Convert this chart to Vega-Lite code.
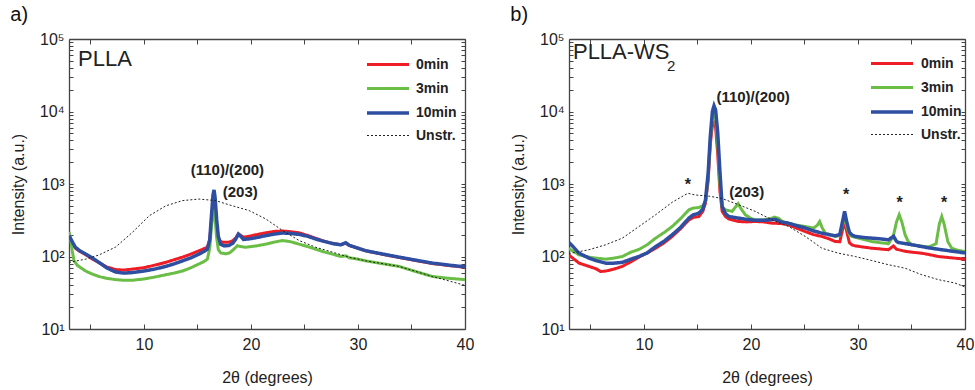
{
  "$schema": "https://vega.github.io/schema/vega-lite/v6.json",
  "padding": {"left": 10, "top": 5, "right": 2, "bottom": 3},
  "spacing": 36,
  "config": {
    "font": "Liberation Sans",
    "view": {"stroke": null},
    "axis": {
      "grid": false,
      "domainColor": "#444",
      "domainWidth": 1.3,
      "tickColor": "#444",
      "tickWidth": 1,
      "labelColor": "#222",
      "titleColor": "#222",
      "labelFontSize": 16,
      "titleFontSize": 16,
      "titleFontWeight": "normal"
    },
    "legend": {
      "title": null,
      "orient": "none",
      "symbolType": "M-3,0H3",
      "symbolSize": 196,
      "labelFontSize": 14,
      "labelFontWeight": "bold",
      "labelColor": "#222",
      "rowPadding": 8,
      "padding": 0
    },
    "title": {"fontSize": 20, "fontWeight": "normal", "anchor": "start", "frame": "bounds", "color": "#111"}
  },
  "datasets": {
    "A": [
      {"s": "0min", "x": 3.0, "y": 185}, {"s": "0min", "x": 3.3, "y": 155}, {"s": "0min", "x": 3.6, "y": 130}, {"s": "0min", "x": 4.0, "y": 118}, {"s": "0min", "x": 4.56, "y": 106}, {"s": "0min", "x": 5.2, "y": 92}, {"s": "0min", "x": 5.8, "y": 82}, {"s": "0min", "x": 6.5, "y": 72}, {"s": "0min", "x": 7.36, "y": 66}, {"s": "0min", "x": 8.1, "y": 65}, {"s": "0min", "x": 8.92, "y": 67}, {"s": "0min", "x": 10.0, "y": 70}, {"s": "0min", "x": 11.0, "y": 76}, {"s": "0min", "x": 12.04, "y": 83}, {"s": "0min", "x": 12.8, "y": 90}, {"s": "0min", "x": 13.6, "y": 98}, {"s": "0min", "x": 14.4, "y": 108}, {"s": "0min", "x": 15.15, "y": 120}, {"s": "0min", "x": 15.6, "y": 128}, {"s": "0min", "x": 15.93, "y": 134}, {"s": "0min", "x": 16.15, "y": 170}, {"s": "0min", "x": 16.3, "y": 300}, {"s": "0min", "x": 16.45, "y": 520}, {"s": "0min", "x": 16.55, "y": 600}, {"s": "0min", "x": 16.65, "y": 480}, {"s": "0min", "x": 16.8, "y": 260}, {"s": "0min", "x": 16.95, "y": 180}, {"s": "0min", "x": 17.17, "y": 160}, {"s": "0min", "x": 17.5, "y": 157}, {"s": "0min", "x": 17.95, "y": 158}, {"s": "0min", "x": 18.3, "y": 165}, {"s": "0min", "x": 18.58, "y": 180}, {"s": "0min", "x": 18.83, "y": 205}, {"s": "0min", "x": 19.05, "y": 195}, {"s": "0min", "x": 19.3, "y": 185}, {"s": "0min", "x": 19.83, "y": 190}, {"s": "0min", "x": 20.5, "y": 200}, {"s": "0min", "x": 21.38, "y": 212}, {"s": "0min", "x": 22.2, "y": 222}, {"s": "0min", "x": 22.94, "y": 225}, {"s": "0min", "x": 23.7, "y": 220}, {"s": "0min", "x": 24.5, "y": 212}, {"s": "0min", "x": 25.3, "y": 195}, {"s": "0min", "x": 26.06, "y": 178}, {"s": "0min", "x": 26.8, "y": 163}, {"s": "0min", "x": 27.6, "y": 152}, {"s": "0min", "x": 28.4, "y": 145}, {"s": "0min", "x": 28.86, "y": 153}, {"s": "0min", "x": 29.17, "y": 143}, {"s": "0min", "x": 30.0, "y": 130}, {"s": "0min", "x": 30.73, "y": 120}, {"s": "0min", "x": 32.2, "y": 108}, {"s": "0min", "x": 33.84, "y": 97}, {"s": "0min", "x": 35.4, "y": 88}, {"s": "0min", "x": 36.96, "y": 80}, {"s": "0min", "x": 38.5, "y": 75}, {"s": "0min", "x": 40, "y": 71},
      {"s": "3min", "x": 3.0, "y": 218}, {"s": "3min", "x": 3.15, "y": 180}, {"s": "3min", "x": 3.3, "y": 120}, {"s": "3min", "x": 3.47, "y": 87}, {"s": "3min", "x": 3.8, "y": 75}, {"s": "3min", "x": 4.56, "y": 63}, {"s": "3min", "x": 5.2, "y": 57}, {"s": "3min", "x": 5.8, "y": 53}, {"s": "3min", "x": 6.5, "y": 50}, {"s": "3min", "x": 7.36, "y": 48}, {"s": "3min", "x": 8.1, "y": 47}, {"s": "3min", "x": 8.92, "y": 47}, {"s": "3min", "x": 10.0, "y": 49}, {"s": "3min", "x": 11.0, "y": 52}, {"s": "3min", "x": 12.04, "y": 56}, {"s": "3min", "x": 12.8, "y": 59}, {"s": "3min", "x": 13.6, "y": 63}, {"s": "3min", "x": 14.4, "y": 70}, {"s": "3min", "x": 15.15, "y": 79}, {"s": "3min", "x": 15.6, "y": 85}, {"s": "3min", "x": 15.93, "y": 92}, {"s": "3min", "x": 16.15, "y": 130}, {"s": "3min", "x": 16.3, "y": 250}, {"s": "3min", "x": 16.45, "y": 390}, {"s": "3min", "x": 16.55, "y": 410}, {"s": "3min", "x": 16.65, "y": 330}, {"s": "3min", "x": 16.8, "y": 180}, {"s": "3min", "x": 16.95, "y": 125}, {"s": "3min", "x": 17.17, "y": 112}, {"s": "3min", "x": 17.64, "y": 109}, {"s": "3min", "x": 18.0, "y": 112}, {"s": "3min", "x": 18.3, "y": 122}, {"s": "3min", "x": 18.74, "y": 141}, {"s": "3min", "x": 18.95, "y": 138}, {"s": "3min", "x": 19.51, "y": 134}, {"s": "3min", "x": 20.5, "y": 140}, {"s": "3min", "x": 21.38, "y": 148}, {"s": "3min", "x": 22.2, "y": 158}, {"s": "3min", "x": 22.94, "y": 166}, {"s": "3min", "x": 23.7, "y": 160}, {"s": "3min", "x": 24.5, "y": 148}, {"s": "3min", "x": 25.3, "y": 137}, {"s": "3min", "x": 26.06, "y": 126}, {"s": "3min", "x": 26.8, "y": 116}, {"s": "3min", "x": 27.6, "y": 108}, {"s": "3min", "x": 28.4, "y": 100}, {"s": "3min", "x": 28.86, "y": 102}, {"s": "3min", "x": 29.17, "y": 96}, {"s": "3min", "x": 30.0, "y": 92}, {"s": "3min", "x": 30.73, "y": 87}, {"s": "3min", "x": 32.2, "y": 80}, {"s": "3min", "x": 33.84, "y": 73}, {"s": "3min", "x": 35.4, "y": 62}, {"s": "3min", "x": 36.96, "y": 53}, {"s": "3min", "x": 38.5, "y": 50}, {"s": "3min", "x": 40, "y": 48},
      {"s": "10min", "x": 3.0, "y": 194}, {"s": "10min", "x": 3.3, "y": 160}, {"s": "10min", "x": 3.6, "y": 134}, {"s": "10min", "x": 4.0, "y": 120}, {"s": "10min", "x": 4.56, "y": 108}, {"s": "10min", "x": 5.2, "y": 95}, {"s": "10min", "x": 5.8, "y": 83}, {"s": "10min", "x": 6.5, "y": 70}, {"s": "10min", "x": 7.36, "y": 61}, {"s": "10min", "x": 8.1, "y": 59}, {"s": "10min", "x": 8.92, "y": 60}, {"s": "10min", "x": 10.0, "y": 63}, {"s": "10min", "x": 11.0, "y": 67}, {"s": "10min", "x": 12.04, "y": 73}, {"s": "10min", "x": 12.8, "y": 79}, {"s": "10min", "x": 13.6, "y": 87}, {"s": "10min", "x": 14.4, "y": 96}, {"s": "10min", "x": 15.15, "y": 108}, {"s": "10min", "x": 15.6, "y": 117}, {"s": "10min", "x": 15.93, "y": 126}, {"s": "10min", "x": 16.15, "y": 170}, {"s": "10min", "x": 16.3, "y": 350}, {"s": "10min", "x": 16.45, "y": 700}, {"s": "10min", "x": 16.55, "y": 830}, {"s": "10min", "x": 16.65, "y": 650}, {"s": "10min", "x": 16.8, "y": 320}, {"s": "10min", "x": 16.95, "y": 190}, {"s": "10min", "x": 17.17, "y": 148}, {"s": "10min", "x": 17.5, "y": 140}, {"s": "10min", "x": 17.95, "y": 142}, {"s": "10min", "x": 18.3, "y": 152}, {"s": "10min", "x": 18.58, "y": 174}, {"s": "10min", "x": 18.83, "y": 204}, {"s": "10min", "x": 19.05, "y": 190}, {"s": "10min", "x": 19.3, "y": 172}, {"s": "10min", "x": 19.83, "y": 175}, {"s": "10min", "x": 20.5, "y": 182}, {"s": "10min", "x": 21.38, "y": 194}, {"s": "10min", "x": 22.2, "y": 204}, {"s": "10min", "x": 22.94, "y": 211}, {"s": "10min", "x": 23.7, "y": 208}, {"s": "10min", "x": 24.5, "y": 202}, {"s": "10min", "x": 25.3, "y": 190}, {"s": "10min", "x": 26.06, "y": 174}, {"s": "10min", "x": 26.8, "y": 162}, {"s": "10min", "x": 27.6, "y": 151}, {"s": "10min", "x": 28.4, "y": 145}, {"s": "10min", "x": 28.86, "y": 155}, {"s": "10min", "x": 29.17, "y": 143}, {"s": "10min", "x": 30.0, "y": 130}, {"s": "10min", "x": 30.73, "y": 120}, {"s": "10min", "x": 32.2, "y": 109}, {"s": "10min", "x": 33.84, "y": 98}, {"s": "10min", "x": 35.4, "y": 89}, {"s": "10min", "x": 36.96, "y": 81}, {"s": "10min", "x": 38.5, "y": 76}, {"s": "10min", "x": 40, "y": 72},
      {"s": "Unstr.", "x": 3.0, "y": 83}, {"s": "Unstr.", "x": 4.56, "y": 92}, {"s": "Unstr.", "x": 5.8, "y": 105}, {"s": "Unstr.", "x": 7.36, "y": 135}, {"s": "Unstr.", "x": 8.92, "y": 215}, {"s": "Unstr.", "x": 10.5, "y": 365}, {"s": "Unstr.", "x": 12.04, "y": 500}, {"s": "Unstr.", "x": 13.6, "y": 590}, {"s": "Unstr.", "x": 15.15, "y": 620}, {"s": "Unstr.", "x": 16.7, "y": 590}, {"s": "Unstr.", "x": 18.27, "y": 500}, {"s": "Unstr.", "x": 19.83, "y": 430}, {"s": "Unstr.", "x": 21.38, "y": 330}, {"s": "Unstr.", "x": 22.94, "y": 229}, {"s": "Unstr.", "x": 24.5, "y": 166}, {"s": "Unstr.", "x": 26.06, "y": 134}, {"s": "Unstr.", "x": 27.6, "y": 115}, {"s": "Unstr.", "x": 29.17, "y": 98}, {"s": "Unstr.", "x": 30.73, "y": 87}, {"s": "Unstr.", "x": 33.84, "y": 73}, {"s": "Unstr.", "x": 36.96, "y": 53}, {"s": "Unstr.", "x": 38.5, "y": 46}, {"s": "Unstr.", "x": 40, "y": 40}
    ],
    "B": [
      {"s": "0min", "x": 3.0, "y": 105}, {"s": "0min", "x": 3.16, "y": 100}, {"s": "0min", "x": 3.94, "y": 81}, {"s": "0min", "x": 4.87, "y": 73}, {"s": "0min", "x": 5.5, "y": 68}, {"s": "0min", "x": 5.96, "y": 62}, {"s": "0min", "x": 6.42, "y": 63}, {"s": "0min", "x": 7.2, "y": 67}, {"s": "0min", "x": 7.98, "y": 73}, {"s": "0min", "x": 8.8, "y": 85}, {"s": "0min", "x": 9.53, "y": 98}, {"s": "0min", "x": 10.3, "y": 112}, {"s": "0min", "x": 11.09, "y": 130}, {"s": "0min", "x": 11.9, "y": 155}, {"s": "0min", "x": 12.64, "y": 189}, {"s": "0min", "x": 13.4, "y": 240}, {"s": "0min", "x": 14.2, "y": 320}, {"s": "0min", "x": 14.6, "y": 345}, {"s": "0min", "x": 15.13, "y": 356}, {"s": "0min", "x": 15.5, "y": 420}, {"s": "0min", "x": 15.75, "y": 545}, {"s": "0min", "x": 16.0, "y": 1100}, {"s": "0min", "x": 16.2, "y": 3500}, {"s": "0min", "x": 16.4, "y": 6500}, {"s": "0min", "x": 16.55, "y": 7000}, {"s": "0min", "x": 16.7, "y": 6000}, {"s": "0min", "x": 16.9, "y": 2500}, {"s": "0min", "x": 17.1, "y": 800}, {"s": "0min", "x": 17.31, "y": 420}, {"s": "0min", "x": 17.62, "y": 356}, {"s": "0min", "x": 17.93, "y": 330}, {"s": "0min", "x": 18.86, "y": 304}, {"s": "0min", "x": 19.6, "y": 300}, {"s": "0min", "x": 20.42, "y": 304}, {"s": "0min", "x": 21.2, "y": 300}, {"s": "0min", "x": 21.97, "y": 288}, {"s": "0min", "x": 22.8, "y": 285}, {"s": "0min", "x": 23.52, "y": 273}, {"s": "0min", "x": 24.3, "y": 245}, {"s": "0min", "x": 25.08, "y": 221}, {"s": "0min", "x": 25.86, "y": 200}, {"s": "0min", "x": 26.63, "y": 189}, {"s": "0min", "x": 27.3, "y": 175}, {"s": "0min", "x": 27.88, "y": 161}, {"s": "0min", "x": 28.3, "y": 160}, {"s": "0min", "x": 28.55, "y": 230}, {"s": "0min", "x": 28.75, "y": 300}, {"s": "0min", "x": 28.95, "y": 220}, {"s": "0min", "x": 29.2, "y": 155}, {"s": "0min", "x": 29.43, "y": 145}, {"s": "0min", "x": 29.74, "y": 140}, {"s": "0min", "x": 30.5, "y": 135}, {"s": "0min", "x": 31.3, "y": 130}, {"s": "0min", "x": 32.1, "y": 127}, {"s": "0min", "x": 32.85, "y": 124}, {"s": "0min", "x": 33.32, "y": 140}, {"s": "0min", "x": 33.6, "y": 126}, {"s": "0min", "x": 34.4, "y": 118}, {"s": "0min", "x": 35.2, "y": 114}, {"s": "0min", "x": 35.96, "y": 111}, {"s": "0min", "x": 36.7, "y": 106}, {"s": "0min", "x": 37.5, "y": 100}, {"s": "0min", "x": 38.7, "y": 96}, {"s": "0min", "x": 40, "y": 92},
      {"s": "3min", "x": 3.0, "y": 130}, {"s": "3min", "x": 3.16, "y": 124}, {"s": "3min", "x": 3.94, "y": 105}, {"s": "3min", "x": 4.87, "y": 98}, {"s": "3min", "x": 5.5, "y": 95}, {"s": "3min", "x": 6.42, "y": 92}, {"s": "3min", "x": 7.2, "y": 95}, {"s": "3min", "x": 7.98, "y": 100}, {"s": "3min", "x": 8.8, "y": 115}, {"s": "3min", "x": 9.53, "y": 125}, {"s": "3min", "x": 10.3, "y": 145}, {"s": "3min", "x": 11.09, "y": 179}, {"s": "3min", "x": 11.9, "y": 215}, {"s": "3min", "x": 12.64, "y": 259}, {"s": "3min", "x": 13.4, "y": 330}, {"s": "3min", "x": 14.2, "y": 440}, {"s": "3min", "x": 14.6, "y": 465}, {"s": "3min", "x": 15.13, "y": 474}, {"s": "3min", "x": 15.5, "y": 500}, {"s": "3min", "x": 15.75, "y": 573}, {"s": "3min", "x": 16.0, "y": 1300}, {"s": "3min", "x": 16.2, "y": 4000}, {"s": "3min", "x": 16.4, "y": 8000}, {"s": "3min", "x": 16.55, "y": 9000}, {"s": "3min", "x": 16.7, "y": 8000}, {"s": "3min", "x": 16.9, "y": 3500}, {"s": "3min", "x": 17.1, "y": 1000}, {"s": "3min", "x": 17.31, "y": 480}, {"s": "3min", "x": 17.62, "y": 440}, {"s": "3min", "x": 17.93, "y": 430}, {"s": "3min", "x": 18.24, "y": 418}, {"s": "3min", "x": 18.5, "y": 470}, {"s": "3min", "x": 18.8, "y": 535}, {"s": "3min", "x": 19.1, "y": 450}, {"s": "3min", "x": 19.48, "y": 376}, {"s": "3min", "x": 20.0, "y": 335}, {"s": "3min", "x": 20.42, "y": 318}, {"s": "3min", "x": 21.2, "y": 320}, {"s": "3min", "x": 21.97, "y": 338}, {"s": "3min", "x": 22.2, "y": 350}, {"s": "3min", "x": 22.59, "y": 335}, {"s": "3min", "x": 23.0, "y": 300}, {"s": "3min", "x": 23.52, "y": 288}, {"s": "3min", "x": 24.3, "y": 270}, {"s": "3min", "x": 25.08, "y": 259}, {"s": "3min", "x": 25.86, "y": 247}, {"s": "3min", "x": 26.2, "y": 270}, {"s": "3min", "x": 26.42, "y": 304}, {"s": "3min", "x": 26.65, "y": 250}, {"s": "3min", "x": 26.94, "y": 210}, {"s": "3min", "x": 27.4, "y": 200}, {"s": "3min", "x": 27.88, "y": 189}, {"s": "3min", "x": 28.3, "y": 195}, {"s": "3min", "x": 28.55, "y": 280}, {"s": "3min", "x": 28.75, "y": 330}, {"s": "3min", "x": 28.95, "y": 260}, {"s": "3min", "x": 29.2, "y": 200}, {"s": "3min", "x": 29.43, "y": 189}, {"s": "3min", "x": 30.3, "y": 175}, {"s": "3min", "x": 31.3, "y": 161}, {"s": "3min", "x": 32.1, "y": 155}, {"s": "3min", "x": 32.85, "y": 150}, {"s": "3min", "x": 33.3, "y": 190}, {"s": "3min", "x": 33.6, "y": 300}, {"s": "3min", "x": 33.85, "y": 376}, {"s": "3min", "x": 34.1, "y": 300}, {"s": "3min", "x": 34.4, "y": 200}, {"s": "3min", "x": 34.7, "y": 160}, {"s": "3min", "x": 35.03, "y": 145}, {"s": "3min", "x": 35.8, "y": 140}, {"s": "3min", "x": 36.58, "y": 135}, {"s": "3min", "x": 37.3, "y": 150}, {"s": "3min", "x": 37.6, "y": 280}, {"s": "3min", "x": 37.83, "y": 356}, {"s": "3min", "x": 38.05, "y": 280}, {"s": "3min", "x": 38.4, "y": 160}, {"s": "3min", "x": 38.76, "y": 130}, {"s": "3min", "x": 39.3, "y": 122}, {"s": "3min", "x": 40, "y": 117},
      {"s": "10min", "x": 3.0, "y": 155}, {"s": "10min", "x": 3.16, "y": 148}, {"s": "10min", "x": 3.94, "y": 111}, {"s": "10min", "x": 4.87, "y": 95}, {"s": "10min", "x": 5.5, "y": 88}, {"s": "10min", "x": 6.42, "y": 81}, {"s": "10min", "x": 7.2, "y": 81}, {"s": "10min", "x": 7.98, "y": 83}, {"s": "10min", "x": 8.8, "y": 92}, {"s": "10min", "x": 9.53, "y": 100}, {"s": "10min", "x": 10.3, "y": 112}, {"s": "10min", "x": 11.09, "y": 137}, {"s": "10min", "x": 11.9, "y": 163}, {"s": "10min", "x": 12.64, "y": 199}, {"s": "10min", "x": 13.4, "y": 250}, {"s": "10min", "x": 14.2, "y": 338}, {"s": "10min", "x": 14.6, "y": 375}, {"s": "10min", "x": 15.13, "y": 396}, {"s": "10min", "x": 15.5, "y": 450}, {"s": "10min", "x": 15.75, "y": 600}, {"s": "10min", "x": 16.0, "y": 1400}, {"s": "10min", "x": 16.2, "y": 4500}, {"s": "10min", "x": 16.4, "y": 10000}, {"s": "10min", "x": 16.55, "y": 12000}, {"s": "10min", "x": 16.7, "y": 10500}, {"s": "10min", "x": 16.9, "y": 5000}, {"s": "10min", "x": 17.1, "y": 1500}, {"s": "10min", "x": 17.31, "y": 490}, {"s": "10min", "x": 17.62, "y": 390}, {"s": "10min", "x": 17.93, "y": 356}, {"s": "10min", "x": 18.86, "y": 338}, {"s": "10min", "x": 19.6, "y": 325}, {"s": "10min", "x": 20.42, "y": 315}, {"s": "10min", "x": 21.2, "y": 315}, {"s": "10min", "x": 21.97, "y": 322}, {"s": "10min", "x": 22.3, "y": 325}, {"s": "10min", "x": 22.8, "y": 300}, {"s": "10min", "x": 23.52, "y": 288}, {"s": "10min", "x": 24.3, "y": 265}, {"s": "10min", "x": 25.08, "y": 247}, {"s": "10min", "x": 25.86, "y": 225}, {"s": "10min", "x": 26.63, "y": 210}, {"s": "10min", "x": 27.3, "y": 200}, {"s": "10min", "x": 27.88, "y": 193}, {"s": "10min", "x": 28.3, "y": 200}, {"s": "10min", "x": 28.55, "y": 300}, {"s": "10min", "x": 28.75, "y": 418}, {"s": "10min", "x": 28.95, "y": 300}, {"s": "10min", "x": 29.2, "y": 215}, {"s": "10min", "x": 29.43, "y": 199}, {"s": "10min", "x": 29.74, "y": 189}, {"s": "10min", "x": 30.5, "y": 183}, {"s": "10min", "x": 31.3, "y": 179}, {"s": "10min", "x": 32.1, "y": 175}, {"s": "10min", "x": 32.85, "y": 170}, {"s": "10min", "x": 33.32, "y": 190}, {"s": "10min", "x": 33.6, "y": 162}, {"s": "10min", "x": 33.78, "y": 156}, {"s": "10min", "x": 34.5, "y": 150}, {"s": "10min", "x": 35.2, "y": 144}, {"s": "10min", "x": 35.96, "y": 137}, {"s": "10min", "x": 36.7, "y": 131}, {"s": "10min", "x": 37.5, "y": 126}, {"s": "10min", "x": 38.7, "y": 119}, {"s": "10min", "x": 40, "y": 112},
      {"s": "Unstr.", "x": 3.0, "y": 108}, {"s": "Unstr.", "x": 3.16, "y": 111}, {"s": "Unstr.", "x": 4.87, "y": 124}, {"s": "Unstr.", "x": 6.42, "y": 145}, {"s": "Unstr.", "x": 7.98, "y": 179}, {"s": "Unstr.", "x": 9.53, "y": 259}, {"s": "Unstr.", "x": 11.09, "y": 376}, {"s": "Unstr.", "x": 12.64, "y": 560}, {"s": "Unstr.", "x": 14.1, "y": 745}, {"s": "Unstr.", "x": 14.82, "y": 705}, {"s": "Unstr.", "x": 16.1, "y": 680}, {"s": "Unstr.", "x": 17.31, "y": 630}, {"s": "Unstr.", "x": 18.86, "y": 517}, {"s": "Unstr.", "x": 20.42, "y": 418}, {"s": "Unstr.", "x": 21.97, "y": 320}, {"s": "Unstr.", "x": 23.52, "y": 260}, {"s": "Unstr.", "x": 25.08, "y": 189}, {"s": "Unstr.", "x": 26.63, "y": 130}, {"s": "Unstr.", "x": 28.19, "y": 111}, {"s": "Unstr.", "x": 29.74, "y": 100}, {"s": "Unstr.", "x": 31.3, "y": 88}, {"s": "Unstr.", "x": 32.85, "y": 77}, {"s": "Unstr.", "x": 34.4, "y": 69}, {"s": "Unstr.", "x": 35.96, "y": 56}, {"s": "Unstr.", "x": 37.5, "y": 48}, {"s": "Unstr.", "x": 39.07, "y": 43}, {"s": "Unstr.", "x": 40, "y": 38}
    ],
    "nameA": [{"x": 3.85, "y": 42850, "t": "PLLA"}],
    "nameB": [{"x": 3.37, "y": 53000, "t": "PLLA-WS"}],
    "subB": [{"x": 12.15, "y": 36500, "t": "2"}],
    "peaksA": [{"x": 17.8, "y": 1560, "t": "(110)/(200)"}, {"x": 19.0, "y": 780, "t": "(203)"}],
    "peaksB": [{"x": 20.2, "y": 15700, "t": "(110)/(200)"}, {"x": 19.6, "y": 767, "t": "(203)"}],
    "starsB": [{"x": 14.1, "y": 960, "t": "*"}, {"x": 28.9, "y": 700, "t": "*"}, {"x": 33.9, "y": 545, "t": "*"}, {"x": 38.05, "y": 545, "t": "*"}]
  },
  "hconcat": [
    {
      "width": 396,
      "height": 290,
      "title": {"text": "a)", "offset": 6},
      "layer": [
        {
          "data": {"name": "A"},
          "mark": {"type": "line", "clip": true},
          "encoding": {
            "x": {"field": "x", "type": "quantitative", "scale": {"domain": [3, 40], "nice": false, "zero": false},
              "axis": {"orient": "bottom", "title": "2θ (degrees)", "values": [5, 10, 15, 20, 25, 30, 35, 40], "labelExpr": "datum.value % 10 == 0 ? datum.label : ''", "tickSize": -5, "labelPadding": 12, "titlePadding": 17, "labelFlush": false}},
            "y": {"field": "y", "type": "quantitative", "scale": {"type": "log", "domain": [10, 100000], "nice": false},
              "axis": {"orient": "left", "title": "Intensity (a.u.)", "values": [10, 20, 30, 40, 50, 60, 70, 80, 90, 100, 200, 300, 400, 500, 600, 700, 800, 900, 1000, 2000, 3000, 4000, 5000, 6000, 7000, 8000, 9000, 10000, 20000, 30000, 40000, 50000, 60000, 70000, 80000, 90000, 100000],
                "labelExpr": "indexof([10,100,1000,10000,100000], datum.value) >= 0 ? '10' + ['¹','²','³','⁴','⁵'][indexof([10,100,1000,10000,100000], datum.value)] : ''", "tickSize": -4, "labelPadding": 9, "titlePadding": 13}},
            "color": {"field": "s", "type": "nominal", "scale": {"domain": ["0min", "3min", "10min", "Unstr."], "range": ["#ee1c25", "#6abd45", "#2e4fa1", "#222222"]}, "legend": {"legendX": 310, "legendY": 17, "labelOffset": 19}},
            "strokeDash": {"field": "s", "type": "nominal", "scale": {"domain": ["0min", "3min", "10min", "Unstr."], "range": [[1, 0], [1, 0], [1, 0], [2, 2]]}, "legend": {"legendX": 310, "legendY": 17, "labelOffset": 19}},
            "strokeWidth": {"field": "s", "type": "nominal", "scale": {"type": "ordinal", "domain": ["0min", "3min", "10min", "Unstr."], "range": [3, 3, 3.5, 1]}, "legend": {"legendX": 310, "legendY": 17, "labelOffset": 19}}
          }
        },
        {
          "data": {"name": "nameA"},
          "mark": {"type": "text", "align": "left", "baseline": "alphabetic", "fontSize": 22, "color": "#222"},
          "encoding": {
            "x": {"field": "x", "type": "quantitative", "scale": {"domain": [3, 40], "nice": false, "zero": false}, "axis": {"orient": "top", "title": null, "labels": false, "values": [5, 10, 15, 20, 25, 30, 35, 40], "tickSize": -5}},
            "y": {"field": "y", "type": "quantitative", "scale": {"type": "log", "domain": [10, 100000], "nice": false}, "axis": {"orient": "right", "title": null, "labels": false, "values": [10, 20, 30, 40, 50, 60, 70, 80, 90, 100, 200, 300, 400, 500, 600, 700, 800, 900, 1000, 2000, 3000, 4000, 5000, 6000, 7000, 8000, 9000, 10000, 20000, 30000, 40000, 50000, 60000, 70000, 80000, 90000, 100000], "tickSize": -4}},
            "text": {"field": "t"}
          }
        },
        {
          "data": {"name": "peaksA"},
          "mark": {"type": "text", "align": "center", "baseline": "middle", "fontSize": 15, "fontWeight": "bold", "color": "#222"},
          "encoding": {
            "x": {"field": "x", "type": "quantitative", "axis": null},
            "y": {"field": "y", "type": "quantitative", "axis": null},
            "text": {"field": "t"}
          }
        }
      ],
      "resolve": {"axis": {"x": "independent", "y": "independent"}}
    },
    {
      "width": 396,
      "height": 290,
      "title": {"text": "b)", "offset": 6},
      "layer": [
        {
          "data": {"name": "B"},
          "mark": {"type": "line", "clip": true},
          "encoding": {
            "x": {"field": "x", "type": "quantitative", "scale": {"domain": [3, 40], "nice": false, "zero": false},
              "axis": {"orient": "bottom", "title": "2θ (degrees)", "values": [5, 10, 15, 20, 25, 30, 35, 40], "labelExpr": "datum.value % 10 == 0 ? datum.label : ''", "tickSize": -5, "labelPadding": 12, "titlePadding": 17, "labelFlush": false}},
            "y": {"field": "y", "type": "quantitative", "scale": {"type": "log", "domain": [10, 100000], "nice": false},
              "axis": {"orient": "left", "title": "Intensity (a.u.)", "values": [10, 20, 30, 40, 50, 60, 70, 80, 90, 100, 200, 300, 400, 500, 600, 700, 800, 900, 1000, 2000, 3000, 4000, 5000, 6000, 7000, 8000, 9000, 10000, 20000, 30000, 40000, 50000, 60000, 70000, 80000, 90000, 100000],
                "labelExpr": "indexof([10,100,1000,10000,100000], datum.value) >= 0 ? '10' + ['¹','²','³','⁴','⁵'][indexof([10,100,1000,10000,100000], datum.value)] : ''", "tickSize": -4, "labelPadding": 9, "titlePadding": 13}},
            "color": {"field": "s", "type": "nominal", "scale": {"domain": ["0min", "3min", "10min", "Unstr."], "range": ["#ee1c25", "#6abd45", "#2e4fa1", "#222222"]}, "legend": {"legendX": 314, "legendY": 16, "labelOffset": 20}},
            "strokeDash": {"field": "s", "type": "nominal", "scale": {"domain": ["0min", "3min", "10min", "Unstr."], "range": [[1, 0], [1, 0], [1, 0], [2, 2]]}, "legend": {"legendX": 314, "legendY": 16, "labelOffset": 20}},
            "strokeWidth": {"field": "s", "type": "nominal", "scale": {"type": "ordinal", "domain": ["0min", "3min", "10min", "Unstr."], "range": [3, 3, 3.5, 1]}, "legend": {"legendX": 314, "legendY": 16, "labelOffset": 20}}
          }
        },
        {
          "data": {"name": "nameB"},
          "mark": {"type": "text", "align": "left", "baseline": "alphabetic", "fontSize": 22, "color": "#222"},
          "encoding": {
            "x": {"field": "x", "type": "quantitative", "scale": {"domain": [3, 40], "nice": false, "zero": false}, "axis": {"orient": "top", "title": null, "labels": false, "values": [5, 10, 15, 20, 25, 30, 35, 40], "tickSize": -5}},
            "y": {"field": "y", "type": "quantitative", "scale": {"type": "log", "domain": [10, 100000], "nice": false}, "axis": {"orient": "right", "title": null, "labels": false, "values": [10, 20, 30, 40, 50, 60, 70, 80, 90, 100, 200, 300, 400, 500, 600, 700, 800, 900, 1000, 2000, 3000, 4000, 5000, 6000, 7000, 8000, 9000, 10000, 20000, 30000, 40000, 50000, 60000, 70000, 80000, 90000, 100000], "tickSize": -4}},
            "text": {"field": "t"}
          }
        },
        {
          "data": {"name": "subB"},
          "mark": {"type": "text", "align": "left", "baseline": "alphabetic", "fontSize": 15, "color": "#222"},
          "encoding": {
            "x": {"field": "x", "type": "quantitative", "axis": null},
            "y": {"field": "y", "type": "quantitative", "axis": null},
            "text": {"field": "t"}
          }
        },
        {
          "data": {"name": "peaksB"},
          "mark": {"type": "text", "align": "center", "baseline": "middle", "fontSize": 15, "fontWeight": "bold", "color": "#222"},
          "encoding": {
            "x": {"field": "x", "type": "quantitative", "axis": null},
            "y": {"field": "y", "type": "quantitative", "axis": null},
            "text": {"field": "t"}
          }
        },
        {
          "data": {"name": "starsB"},
          "mark": {"type": "text", "align": "center", "baseline": "middle", "fontSize": 16, "fontWeight": "bold", "color": "#222"},
          "encoding": {
            "x": {"field": "x", "type": "quantitative", "axis": null},
            "y": {"field": "y", "type": "quantitative", "axis": null},
            "text": {"field": "t"}
          }
        }
      ],
      "resolve": {"axis": {"x": "independent", "y": "independent"}}
    }
  ],
  "resolve": {"scale": {"color": "independent", "strokeDash": "independent", "strokeWidth": "independent"}, "legend": {"color": "independent", "strokeDash": "independent", "strokeWidth": "independent"}}
}
